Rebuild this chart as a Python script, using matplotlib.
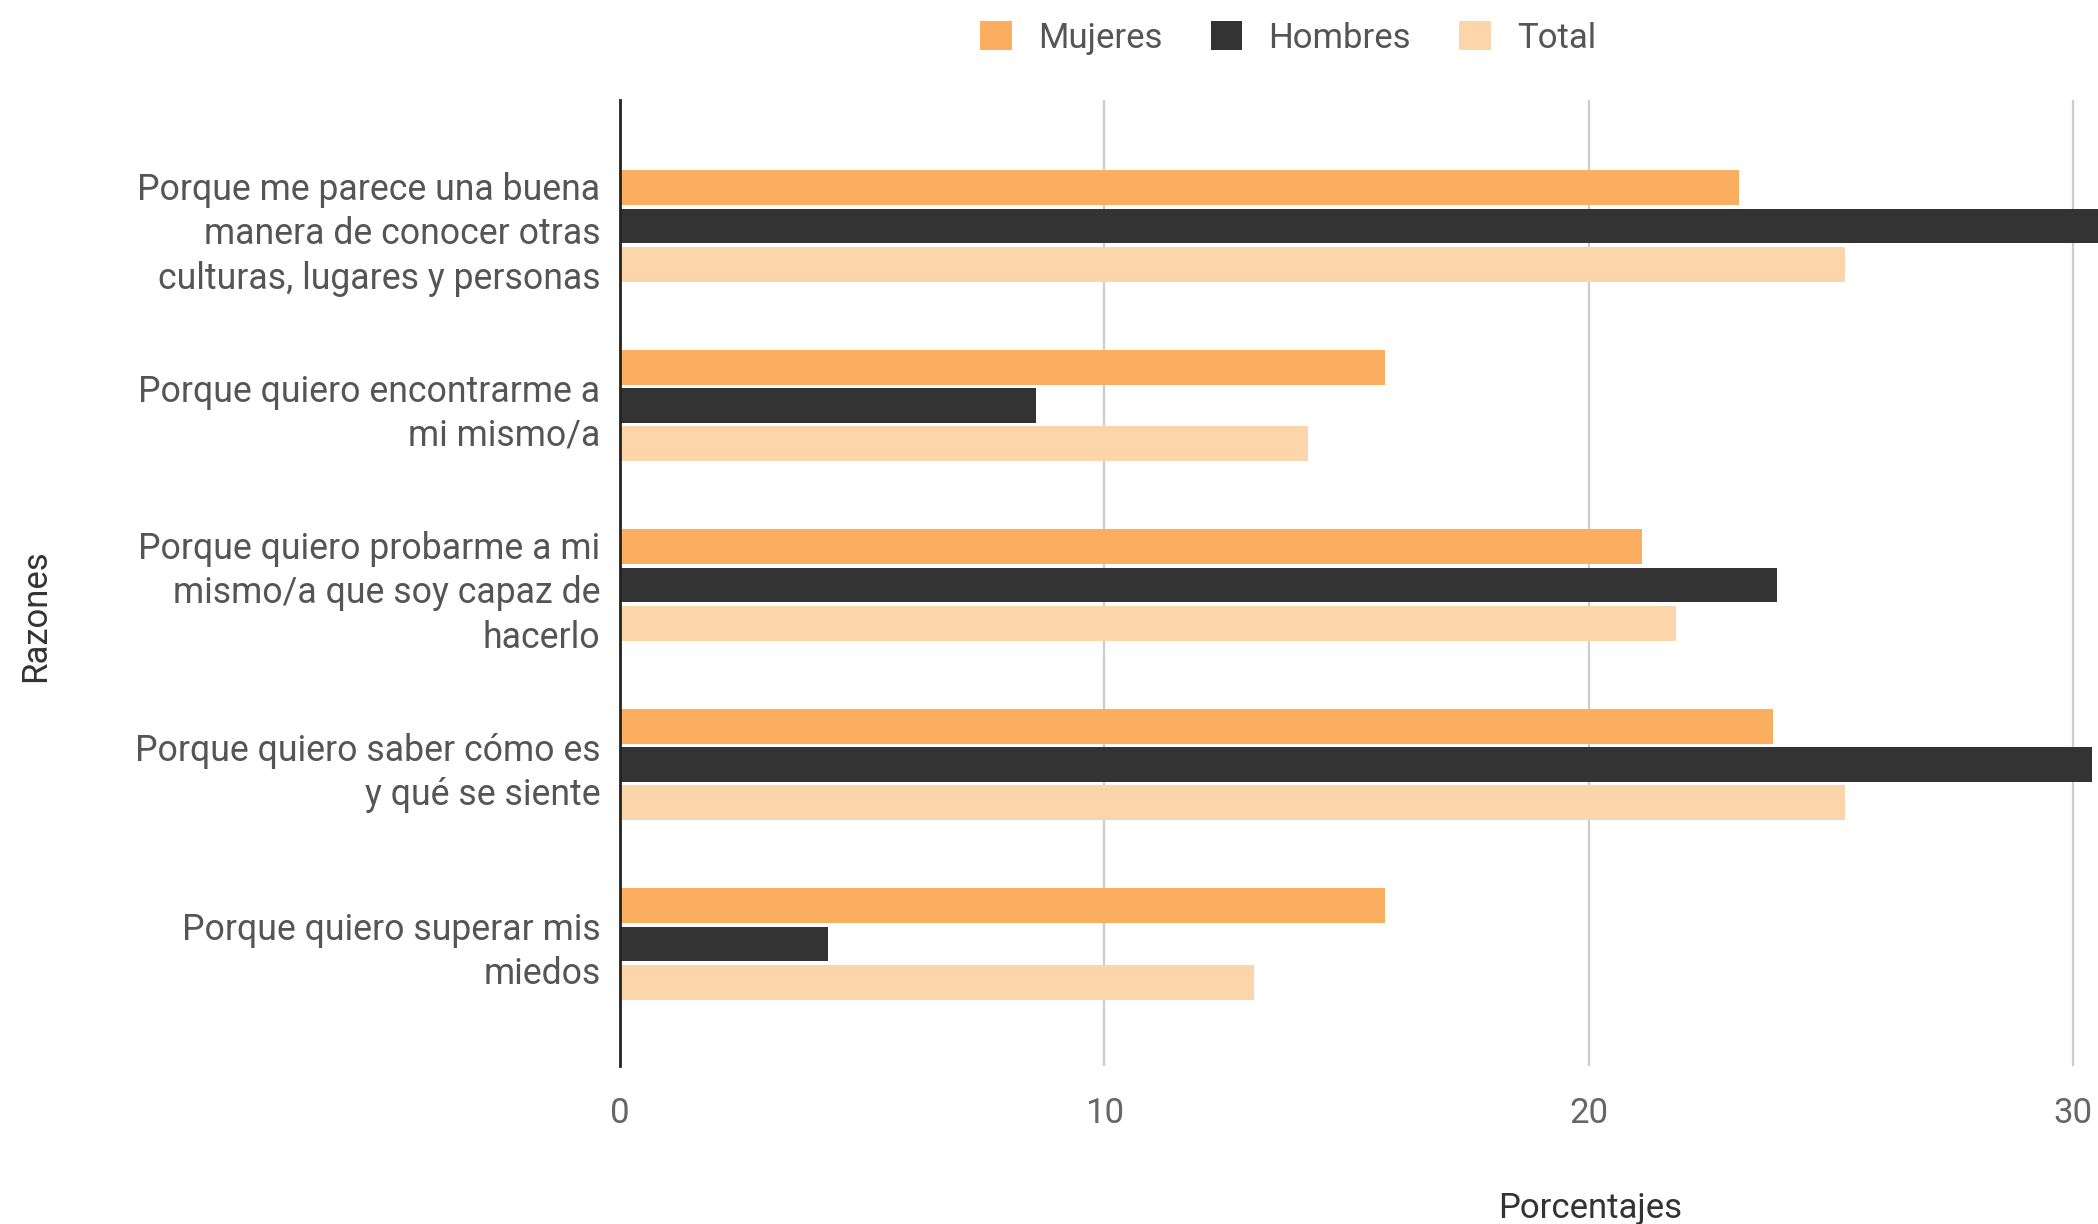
import matplotlib.pyplot as plt
import numpy as np

# datos
razones = [
    'Porque me parece una buena\nmanera de conocer otras\nculturas, lugares y personas',
    'Porque quiero encontrarme a\nmi mismo/a',
    'Porque quiero probarme a mi\nmismo/a que soy capaz de\nhacerlo',
    'Porque quiero saber cómo es\ny qué se siente',
    'Porque quiero superar mis\nmiedos',
]
mujeres = [23.1, 15.8, 21.1, 23.8, 15.8]
hombres = [32.6, 8.6, 23.9, 30.4, 4.3]
total = [25.3, 14.2, 21.8, 25.3, 13.1]

series = ['Mujeres', 'Hombres', 'Total']
colores = ['#fbae60', '#333333', '#fdd5ab']

plt.rcParams['font.family'] = ['Roboto', 'DejaVu Sans']

fig = plt.figure(figsize=(20.98, 12.24), dpi=100)
ax = fig.add_axes([0.2955, 0.129, 0.7045, 0.789])

y = np.arange(len(razones))
alto = 0.194
paso = 0.213
for i, (nombre, vals) in enumerate(zip(series, [mujeres, hombres, total])):
    ax.barh(y + (i - 1) * paso, vals, height=alto, color=colores[i], label=nombre, zorder=3)

ax.set_xlim(0, 30.52)
ax.set_ylim(4.68, -0.70)
ax.set_xticks([0, 10, 20, 30])
ax.set_yticks(y)
ax.set_yticklabels(razones, fontsize=25.7, color='#555555', linespacing=1.3)
ax.tick_params(axis='both', length=0)
ax.tick_params(axis='x', labelsize=25, labelcolor='#666666', pad=22)
ax.tick_params(axis='y', pad=14)

ax.grid(axis='x', color='#cccccc', linewidth=1.6, zorder=0)
for s in ['top', 'right', 'bottom']:
    ax.spines[s].set_visible(False)
ax.spines['left'].set_color('#222222')
ax.spines['left'].set_linewidth(2)
ax.spines['left'].set_zorder(4)

fig.text(0.017, 0.497, 'Razones', rotation=90, ha='center', va='center', fontsize=25, color='#333333')
fig.text(0.758, 0.013, 'Porcentajes', ha='center', va='center', fontsize=25, color='#333333')

fig.legend(loc='upper center', bbox_to_anchor=(0.614, 1.008), ncol=3, frameon=False,
           fontsize=25, labelcolor='#555555', handlelength=0.9, handleheight=0.9,
           handletextpad=0.75, columnspacing=1.4)

plt.savefig('out.png', dpi=100)
